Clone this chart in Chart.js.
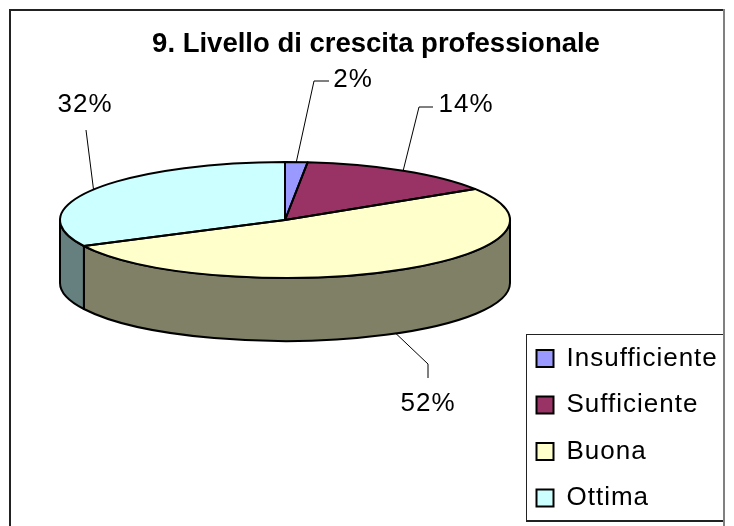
<!DOCTYPE html>
<html>
<head>
<meta charset="utf-8">
<title>Livello di crescita professionale</title>
<script src="https://cdn.jsdelivr.net/npm/chart.js@4"></script>
<style>
    html, body { margin: 0; padding: 0; background: #fff; }
    canvas { display: block; }
</style>
</head>
<body>
<canvas id="pieChart" width="734" height="526"></canvas>
<script>
const categories = ['Insufficiente', 'Sufficiente', 'Buona', 'Ottima'];
// the labels show them rounded
const values = [1.6, 14.4, 51.6, 32.4];
const sliceColors = ['#9999FF', '#993366', '#FFFFCC', '#CCFFFF'];
const wallColors = ['#4D4D80', '#4D1A33', '#808066', '#668080'];

// pie tilt and thickness
const squash = 58 / 225;
const depth = 63;
const flatCenterY = 220;

// leader bends and label centres for each slice, in page pixels
const leaderBends = [[[314, 81], [329, 81]], [[419, 107], [433, 107]], [[428, 364], [428, 378]], [[86, 130]]];
const labelCenters = [[353, 80], [466, 105], [428, 404], [85, 105]];

function flatY(y, cy) {
    return flatCenterY + (y - cy) * squash;
}

// squash the arcs the library draws into an ellipse
const tiltPlugin = {
    id: 'tilt',
    beforeDatasetsDraw(chart) {
        const ctx = chart.ctx;
        const arcs = chart.getDatasetMeta(0).data;
        const rx = arcs[0].outerRadius;
        const ry = rx * squash;
        const cx = arcs[0].x;
        const top = flatCenterY;

        // side wall, only the front half shows
        ctx.save();
        ctx.strokeStyle = '#000';
        ctx.lineWidth = 2;
        ctx.lineJoin = 'round';
        arcs.forEach((arc, i) => {
            const a0 = Math.max(arc.startAngle, 0);
            const a1 = Math.min(arc.endAngle, Math.PI);
            if (a1 <= a0) return;
            ctx.beginPath();
            ctx.ellipse(cx, top, rx, ry, 0, a0, a1);
            ctx.ellipse(cx, top + depth, rx, ry, 0, a1, a0, true);
            ctx.closePath();
            ctx.fillStyle = wallColors[i];
            ctx.fill();
            ctx.stroke();
        });
        ctx.restore();
    },
    beforeDatasetDraw(chart) {
        const ctx = chart.ctx;
        const cy = chart.getDatasetMeta(0).data[0].y;
        ctx.save();
        ctx.translate(0, flatCenterY);
        ctx.scale(1, squash);
        ctx.translate(0, -cy);
    },
    afterDatasetDraw(chart) {
        const ctx = chart.ctx;
        ctx.restore();
        const arcs = chart.getDatasetMeta(0).data;

        // outlines are stroked here so the line width stays even
        ctx.save();
        ctx.strokeStyle = '#000';
        ctx.lineWidth = 2;
        ctx.lineJoin = 'round';
        arcs.forEach(arc => {
            const ry = arc.outerRadius * squash;
            ctx.beginPath();
            ctx.moveTo(arc.x, flatCenterY);
            ctx.ellipse(arc.x, flatCenterY, arc.outerRadius, ry, 0, arc.startAngle, arc.endAngle);
            ctx.closePath();
            ctx.stroke();
        });
        ctx.restore();
    },
    afterDatasetsDraw(chart) {
        const ctx = chart.ctx;
        const arcs = chart.getDatasetMeta(0).data;

        ctx.save();
        ctx.strokeStyle = '#000';
        ctx.lineWidth = 1;
        ctx.fillStyle = '#000';
        ctx.font = '26px "Liberation Sans"';
        ctx.letterSpacing = '1px';
        ctx.textAlign = 'center';
        ctx.textBaseline = 'middle';
        arcs.forEach((arc, i) => {
            const mid = (arc.startAngle + arc.endAngle) / 2;
            const sin = Math.sin(mid);
            const x = arc.x + arc.outerRadius * Math.cos(mid);
            let y = flatY(arc.y + arc.outerRadius * sin, arc.y);
            if (sin > 0) y += depth;
            ctx.beginPath();
            ctx.moveTo(x, y);
            leaderBends[i].forEach(p => ctx.lineTo(p[0], p[1]));
            ctx.stroke();
            ctx.fillText(Math.round(values[i]) + '%', labelCenters[i][0], labelCenters[i][1]);
        });
        ctx.restore();
    }
};

// frame and legend box go under everything
const framePlugin = {
    id: 'frame',
    beforeDraw(chart) {
        const ctx = chart.ctx;
        ctx.save();
        ctx.fillStyle = '#fff';
        ctx.fillRect(0, 0, chart.width, chart.height);

        ctx.fillStyle = '#222';
        ctx.fillRect(9, 9, 716, 2);
        ctx.fillRect(9, 9, 2, 517);
        ctx.fillRect(526, 334, 198, 1);
        ctx.fillRect(526, 334, 1, 187);
        ctx.fillRect(526, 520, 198, 2);
        ctx.fillStyle = '#808080';
        ctx.fillRect(723, 9, 2, 517);
        ctx.restore();
    },
    afterLayout(chart) {
        const legend = chart.legend;
        legend.left = 516;
        legend.right = 800;
        legend.top = 325;
        legend.bottom = 600;
        // the legend text is set slightly loose, the title is not
        if (!legend.hasOwnProperty('draw')) {
            const drawLegend = legend.draw;
            legend.draw = function () {
                chart.ctx.save();
                chart.ctx.letterSpacing = '1px';
                drawLegend.call(legend);
                chart.ctx.restore();
            };
        }
        const title = chart.titleBlock;
        title.left = 18;
        title.right = 734;
        title.top = 28;
        title.bottom = 61;
    }
};

new Chart(document.getElementById('pieChart'), {
    type: 'pie',
    data: {
        labels: categories,
        datasets: [{
            data: values,
            backgroundColor: sliceColors,
            borderWidth: 0
        }]
    },
    options: {
        responsive: false,
        animation: false,
        layout: { padding: { left: 60, right: 224, top: 5, bottom: 38 } },
        plugins: {
            title: {
                display: true,
                text: '9. Livello di crescita professionale',
                color: '#000',
                padding: 0,
                font: { family: '"Liberation Sans"', size: 27.5, weight: 'bold', lineHeight: 1.2 }
            },
            legend: {
                position: 'chartArea',
                align: 'start',
                labels: {
                    color: '#000',
                    font: { family: '"Liberation Sans"', size: 26 },
                    boxWidth: 17,
                    boxHeight: 17,
                    padding: 20.5,
                    generateLabels(chart) {
                        return Chart.overrides.pie.plugins.legend.labels.generateLabels(chart).map(item => {
                            item.strokeStyle = '#000';
                            item.lineWidth = 2;
                            return item;
                        });
                    }
                }
            },
            tooltip: { enabled: false }
        }
    },
    plugins: [framePlugin, tiltPlugin]
});
</script>
</body>
</html>
